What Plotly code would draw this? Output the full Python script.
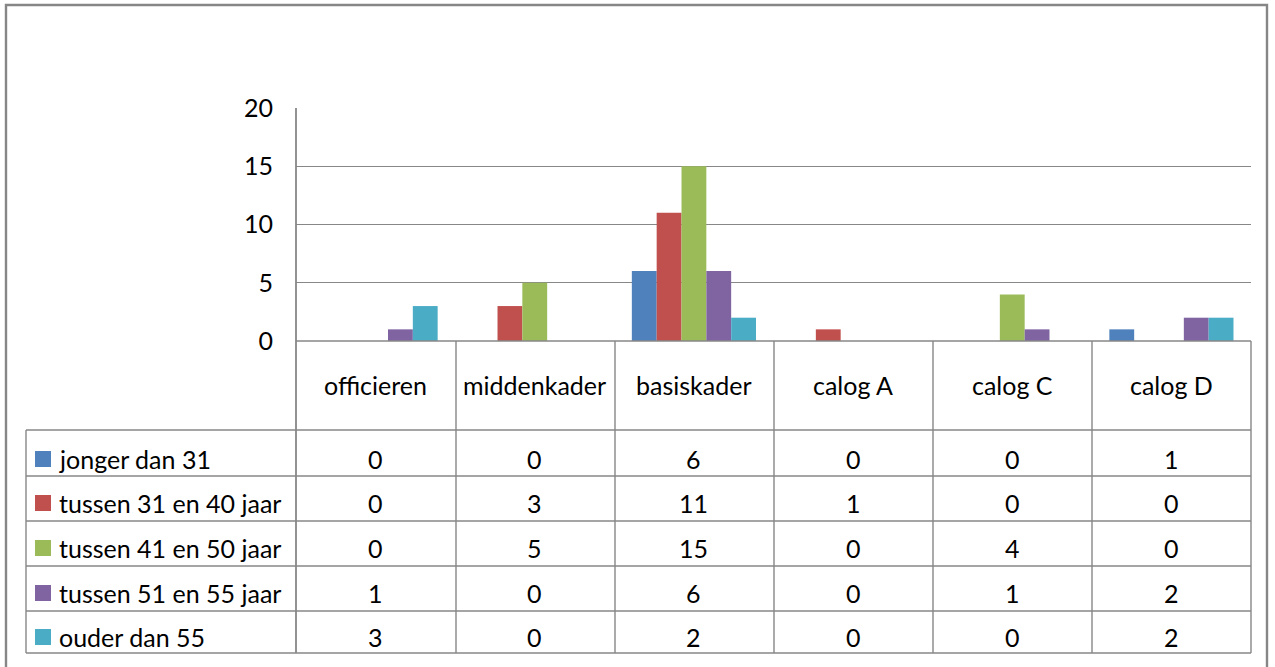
import plotly.graph_objects as go

categories = ["officieren", "middenkader", "basiskader", "calog A", "calog C", "calog D"]
series_names = ["jonger dan 31", "tussen 31 en 40 jaar", "tussen 41 en 50 jaar",
                "tussen 51 en 55 jaar", "ouder dan 55"]
jonger_dan_31 = [0, 0, 6, 0, 0, 1]
tussen_31_40 = [0, 3, 11, 1, 0, 0]
tussen_41_50 = [0, 5, 15, 0, 4, 0]
tussen_51_55 = [1, 0, 6, 0, 1, 2]
ouder_dan_55 = [3, 0, 2, 0, 0, 2]
series_values = [jonger_dan_31, tussen_31_40, tussen_41_50, tussen_51_55, ouder_dan_55]
colors = ["#4F81BD", "#C0504D", "#9BBB59", "#8064A2", "#4BACC6"]
y_ticks = [0, 5, 10, 15, 20]

W, H = 1275, 667
FONT = "Lato"
FS = 25
GRID = "#878787"


def px(x):
    return x / W


def py(y):
    return 1 - y / H


fig = go.Figure()
for name, vals, col in zip(series_names, series_values, colors):
    fig.add_trace(go.Bar(x=categories, y=vals, name=name, marker=dict(color=col, line=dict(width=0)),
                         showlegend=False))

shapes = []


def line(x0, y0, x1, y1, color=GRID, w=1.4):
    shapes.append(dict(type="line", xref="paper", yref="paper", x0=px(x0), y0=py(y0),
                       x1=px(x1), y1=py(y1), line=dict(color=color, width=w)))


# outer chart border
shapes.append(dict(type="rect", xref="paper", yref="paper", x0=px(6), y0=py(5), x1=px(1267), y1=py(680),
                   line=dict(color="#868686", width=2.4), fillcolor="rgba(0,0,0,0)"))

# data table lines
x_left_plot, x_right_plot = 296, 1251
col_edges = [296, 456, 615, 774, 933, 1092, 1251]
row_edges = [430, 476, 521, 566, 611, 653]
line(x_left_plot, 341, x_right_plot, 341)
for r in row_edges:
    line(26, r, x_right_plot, r)
line(26, 430, 26, 653)
line(296, 108, 296, 653, w=1.8)
for c in col_edges[1:]:
    line(c, 341, c, 653)

annotations = []
# category header labels
for cat in categories:
    annotations.append(dict(x=cat, y=py(385), xref="x", yref="paper", text=cat, showarrow=False,
                            font=dict(family=FONT, size=FS, color="#000"), xanchor="center", yanchor="middle"))
# legend rows + values
row_centers = [459, 503, 548, 593, 637]
for name, vals, col, rc in zip(series_names, series_values, colors, row_centers):
    shapes.append(dict(type="rect", xref="paper", yref="paper", x0=px(35), y0=py(rc - 8), x1=px(51), y1=py(rc + 8),
                       fillcolor=col, line=dict(width=0)))
    annotations.append(dict(x=px(57), y=py(rc), xref="paper", yref="paper", text=name, showarrow=False,
                            font=dict(family=FONT, size=FS, color="#000"), xanchor="left", yanchor="middle"))
    for cat, v in zip(categories, vals):
        annotations.append(dict(x=cat, y=py(rc), xref="x", yref="paper", text=str(v), showarrow=False,
                                font=dict(family=FONT, size=FS, color="#000"), xanchor="center", yanchor="middle"))

fig.update_layout(
    template="none",
    width=W, height=H,
    margin=dict(l=0, r=0, t=0, b=0, pad=0, autoexpand=False),
    paper_bgcolor="white", plot_bgcolor="white",
    barmode="group", bargap=0.22, bargroupgap=0,
    shapes=shapes, annotations=annotations,
    xaxis=dict(domain=[px(296), px(1251)], showticklabels=False, showgrid=False, zeroline=False,
               showline=False, ticks="", fixedrange=True, automargin=False),
    yaxis=dict(domain=[py(341), py(108)], range=[0, 20], tickvals=y_ticks, showgrid=True, gridcolor=GRID,
               gridwidth=1.4, zeroline=False, showline=False, ticks="", ticklabelstandoff=22,
               tickfont=dict(family=FONT, size=FS, color="#000"), fixedrange=True, automargin=False),
    font=dict(family=FONT, size=FS, color="#000"),
)

fig.write_html("out.html",
               config={"displayModeBar": False},
               post_script="document.body.style.margin='0';document.body.style.padding='0';"
                           "document.body.style.overflow='hidden';")
